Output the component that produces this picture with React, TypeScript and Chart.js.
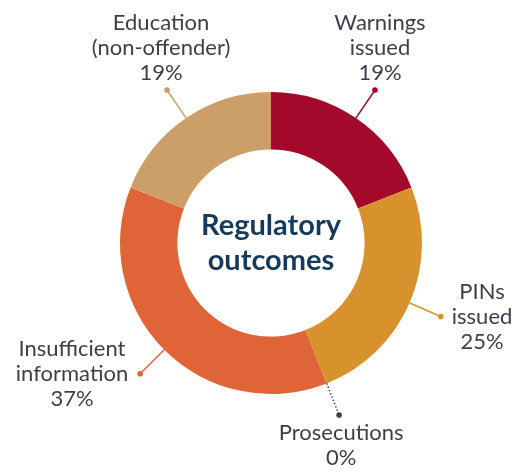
import React, { useEffect, useRef } from "react";
import { Chart, registerables } from "chart.js";

Chart.register(...registerables);

const categories = [
  "Warnings issued",
  "PINs issued",
  "Prosecutions",
  "Insufficient information",
  "Education (non-offender)",
];
const categoryLines = [
  ["Warnings", "issued"],
  ["PINs", "issued"],
  ["Prosecutions"],
  ["Insufficient", "information"],
  ["Education", "(non-offender)"],
];
const values = [19, 25, 0, 37, 19];
const colors = ["#A2092B", "#D8922D", "#3B3E48", "#DF6538", "#CC9F68"];
const centerLines = ["Regulatory", "outcomes"];

const LABEL_FONT = '22px Lato, "Open Sans", sans-serif';
const LABEL_COLOR = "#3B3F4A";
const LINE_H = 25;

const labelPlugin = {
  id: "outLabels",
  afterDatasetsDraw(chart: any) {
    const ctx = chart.ctx as CanvasRenderingContext2D;
    const meta = chart.getDatasetMeta(0);
    const total = values.reduce((a, b) => a + b, 0);
    meta.data.forEach((arc: any, i: number) => {
      const p = arc.getProps(["x", "y", "startAngle", "endAngle", "outerRadius"], true);
      const mid = (p.startAngle + p.endAngle) / 2;
      const c = Math.cos(mid);
      const s = Math.sin(mid);
      const x0 = p.x + c * p.outerRadius;
      const y0 = p.y + s * p.outerRadius;
      const x1 = p.x + c * (p.outerRadius + 34);
      const y1 = p.y + s * (p.outerRadius + 34);
      ctx.save();
      ctx.strokeStyle = colors[i];
      ctx.fillStyle = colors[i];
      ctx.lineWidth = 1.5;
      if (values[i] === 0) {
        ctx.setLineDash([1.5, 2]);
      }
      ctx.beginPath();
      ctx.moveTo(x0, y0);
      ctx.lineTo(x1, y1);
      ctx.stroke();
      ctx.setLineDash([]);
      ctx.beginPath();
      ctx.arc(x1, y1, 2.8, 0, Math.PI * 2);
      ctx.fill();

      const pct = Math.round((values[i] / total) * 100) + "%";
      const lines = [...categoryLines[i], pct];
      ctx.font = LABEL_FONT;
      ctx.fillStyle = LABEL_COLOR;
      ctx.textAlign = "center";
      const up = -s;
      if (up > 0.75) {
        ctx.textBaseline = "alphabetic";
        const lastBase = y1 - 10;
        lines.forEach((t, k) => {
          ctx.fillText(t, x1 + (c > 0 ? 5 : -6), lastBase - (lines.length - 1 - k) * LINE_H);
        });
      } else if (up < -0.9) {
        ctx.textBaseline = "alphabetic";
        lines.forEach((t, k) => {
          ctx.fillText(t, x1 + 2, y1 + 25 + k * LINE_H);
        });
      } else {
        ctx.textBaseline = "middle";
        const w = Math.max(...lines.map((t) => ctx.measureText(t).width));
        const cx = c > 0 ? x1 + 11 + w / 2 : x1 - 12 - w / 2;
        const n = lines.length;
        lines.forEach((t, k) => {
          ctx.fillText(t, cx, y1 + (k - (n - 1) / 2) * LINE_H);
        });
      }
      ctx.restore();
    });

    // centre text
    const a0 = meta.data[0];
    const cx = a0.x;
    const cy = a0.y;
    ctx.save();
    ctx.font = 'bold 29px Lato, "Open Sans", sans-serif';
    ctx.fillStyle = "#163A5B";
    ctx.textAlign = "center";
    ctx.textBaseline = "alphabetic";
    ctx.fillText(centerLines[0], cx, cy - 8);
    ctx.fillText(centerLines[1], cx, cy + 27);
    ctx.restore();
  },
};

export default function App() {
  const ref = useRef<HTMLCanvasElement>(null);
  useEffect(() => {
    if (!ref.current) return;
    const chart = new Chart(ref.current, {
      type: "doughnut",
      data: {
        labels: categories,
        datasets: [
          {
            data: values,
            backgroundColor: colors,
            borderWidth: 0,
          },
        ],
      },
      options: {
        responsive: false,
        animation: false,
        cutout: "62%",
        layout: { padding: { left: 120, right: 90, top: 92, bottom: 77 } },
        plugins: {
          legend: { display: false },
          tooltip: { enabled: false },
        },
      },
      plugins: [labelPlugin],
    });
    return () => chart.destroy();
  }, []);
  return (
    <div style={{ position: "absolute", left: 0, top: 0, width: 512, height: 471, background: "#fff" }}>
      <canvas ref={ref} width={512} height={471} style={{ display: "block" }} />
    </div>
  );
}
